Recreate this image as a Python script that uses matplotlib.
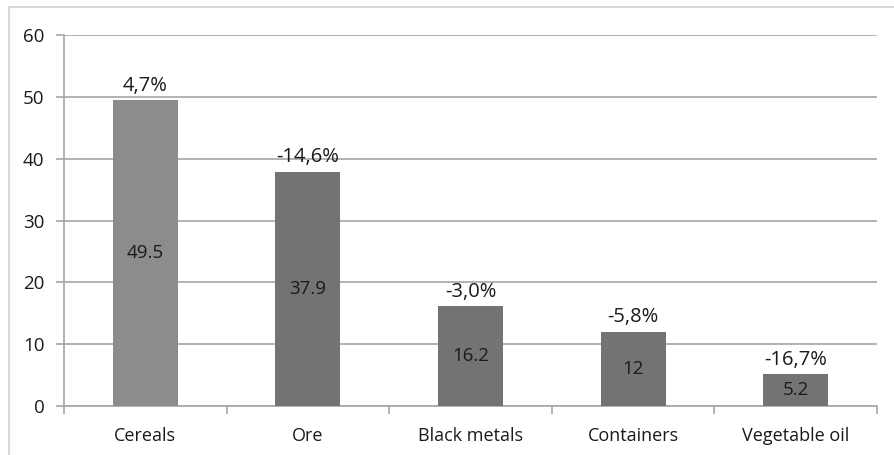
from matplotlib import pyplot as plt
import numpy as np

categories = ["Cereals", "Ore", "Black metals", "Containers", "Vegetable oil"]
volumes = [49.5, 37.9, 16.2, 12, 5.2]
volume_labels = ["49.5", "37.9", "16.2", "12", "5.2"]
changes = ["4,7%", "-14,6%", "-3,0%", "-5,8%", "-16,7%"]
bar_colors = ["#8c8c8c", "#737373", "#737373", "#737373", "#737373"]

plt.rcParams["font.family"] = ["Open Sans", "DejaVu Sans"]

fig = plt.figure(figsize=(8.94, 4.55), dpi=100)
# outer frame (top and left lines only, as in the reference)
fig.add_artist(plt.Line2D([9 / 894, 1.0], [1 - 7 / 455, 1 - 7 / 455], color="#d9d9d9", lw=1.5))
fig.add_artist(plt.Line2D([9 / 894, 9 / 894], [0, 1 - 7 / 455], color="#d9d9d9", lw=1.5))

ax = fig.add_axes([64 / 894, 1 - 406 / 455, (877 - 64) / 894, (406 - 35) / 455])

x = np.arange(len(categories))
ax.bar(x, volumes, width=0.4, color=bar_colors, zorder=3)

for xi, v, lab, ch in zip(x, volumes, volume_labels, changes):
    ax.text(xi, v / 2, lab, ha="center", va="center", fontsize=13.5, color="#1a1a1a", zorder=4)
    ax.text(xi, v + 0.7, ch, ha="center", va="bottom", fontsize=14.5, color="#1a1a1a", zorder=4)

ax.set_xlim(-0.5, len(categories) - 0.5)
ax.set_ylim(0, 60)
ax.set_yticks(np.arange(0, 61, 10))
ax.yaxis.grid(True, color="#a6a6a6", lw=1.2, zorder=0)
ax.set_axisbelow(True)

ax.set_xticks(x)
ax.set_xticklabels(categories, fontsize=13, color="#1a1a1a")
ax.set_xticks(np.arange(-0.5, len(categories)), minor=True)
ax.tick_params(axis="x", which="major", length=0, pad=15)
ax.tick_params(axis="x", which="minor", length=6, color="#a6a6a6", width=1.2)
ax.tick_params(axis="y", length=6, color="#a6a6a6", width=1.2, labelsize=13.5, labelcolor="#1a1a1a", pad=8)

for s in ["top", "right"]:
    ax.spines[s].set_visible(False)
for s in ["left", "bottom"]:
    ax.spines[s].set_color("#a6a6a6")
    ax.spines[s].set_linewidth(1.2)

fig.savefig("out.png", dpi=100)
